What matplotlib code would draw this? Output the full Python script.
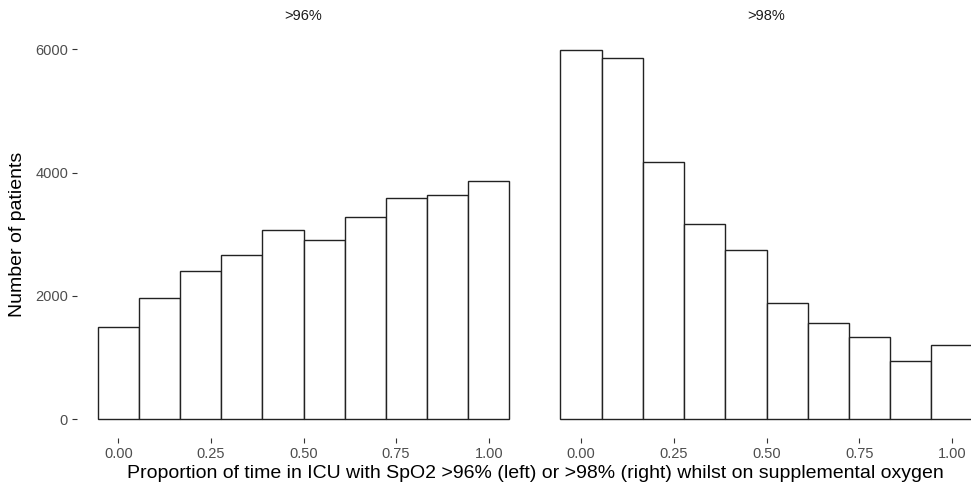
import matplotlib.pyplot as plt

plt.rcParams["font.family"] = ["Liberation Sans", "DejaVu Sans"]

# bin centres (10 bins over 0..1) and counts for each facet
BIN_CENTERS = [i / 9 for i in range(10)]
BIN_WIDTH = 1 / 9
COUNTS_96 = [1495, 1970, 2400, 2660, 3065, 2900, 3285, 3590, 3635, 3860]
COUNTS_98 = [5995, 5855, 4175, 3165, 2745, 1875, 1565, 1330, 948, 1208]
FACETS = [">96%", ">98%"]
X_TICKS = [0.0, 0.25, 0.5, 0.75, 1.0]
X_TICK_LABELS = ["0.00", "0.25", "0.50", "0.75", "1.00"]
Y_TICKS = [0, 2000, 4000, 6000]

W, H = 971, 491
fig = plt.figure(figsize=(W / 100, H / 100), dpi=100)

top_px, bottom_px = 31.1, 437.5
panels = [(77.15, 529.85), (539.8, 993.2)]

ymax = max(COUNTS_96 + COUNTS_98)
xlo = -BIN_WIDTH / 2 - 0.05 * (1 + BIN_WIDTH)
xhi = 1 + BIN_WIDTH / 2 + 0.05 * (1 + BIN_WIDTH)

axes = []
for i, (counts, label) in enumerate(zip([COUNTS_96, COUNTS_98], FACETS)):
    x0, x1 = panels[i]
    ax = fig.add_axes([x0 / W, (H - bottom_px) / H, (x1 - x0) / W,
                       (bottom_px - top_px) / H])
    ax.bar(BIN_CENTERS, counts, width=BIN_WIDTH, color="white",
           edgecolor="#222222", linewidth=1.0)
    ax.set_xlim(xlo, xhi)
    ax.set_ylim(-0.05 * ymax, 1.05 * ymax)
    for s in ax.spines.values():
        s.set_visible(False)
    ax.set_xticks(X_TICKS)
    ax.set_xticklabels(X_TICK_LABELS)
    ax.set_yticks(Y_TICKS)
    ax.tick_params(length=3.5, width=0.8, color="#333333",
                   labelcolor="#4D4D4D", labelsize=10.5, pad=3)
    if i == 1:
        ax.tick_params(axis="y", left=False, labelleft=False)
    ax.text(0.5, (top_px - 16) / (bottom_px - top_px) + 1, label,
            transform=ax.transAxes, ha="center", va="center",
            fontsize=10.5, color="#1A1A1A")
    axes.append(ax)

fig.text((77.15 + 993.2) / 2 / W, 1 - 473 / H,
         "Proportion of time in ICU with SpO2 >96% (left) or >98% (right) "
         "whilst on supplemental oxygen",
         ha="center", va="center", fontsize=14, color="black")
fig.text(18 / W, 1 - (top_px + bottom_px) / 2 / H, "Number of patients",
         rotation=90, ha="center", va="center", fontsize=14, color="black")

fig.savefig("out.png", dpi=100)
